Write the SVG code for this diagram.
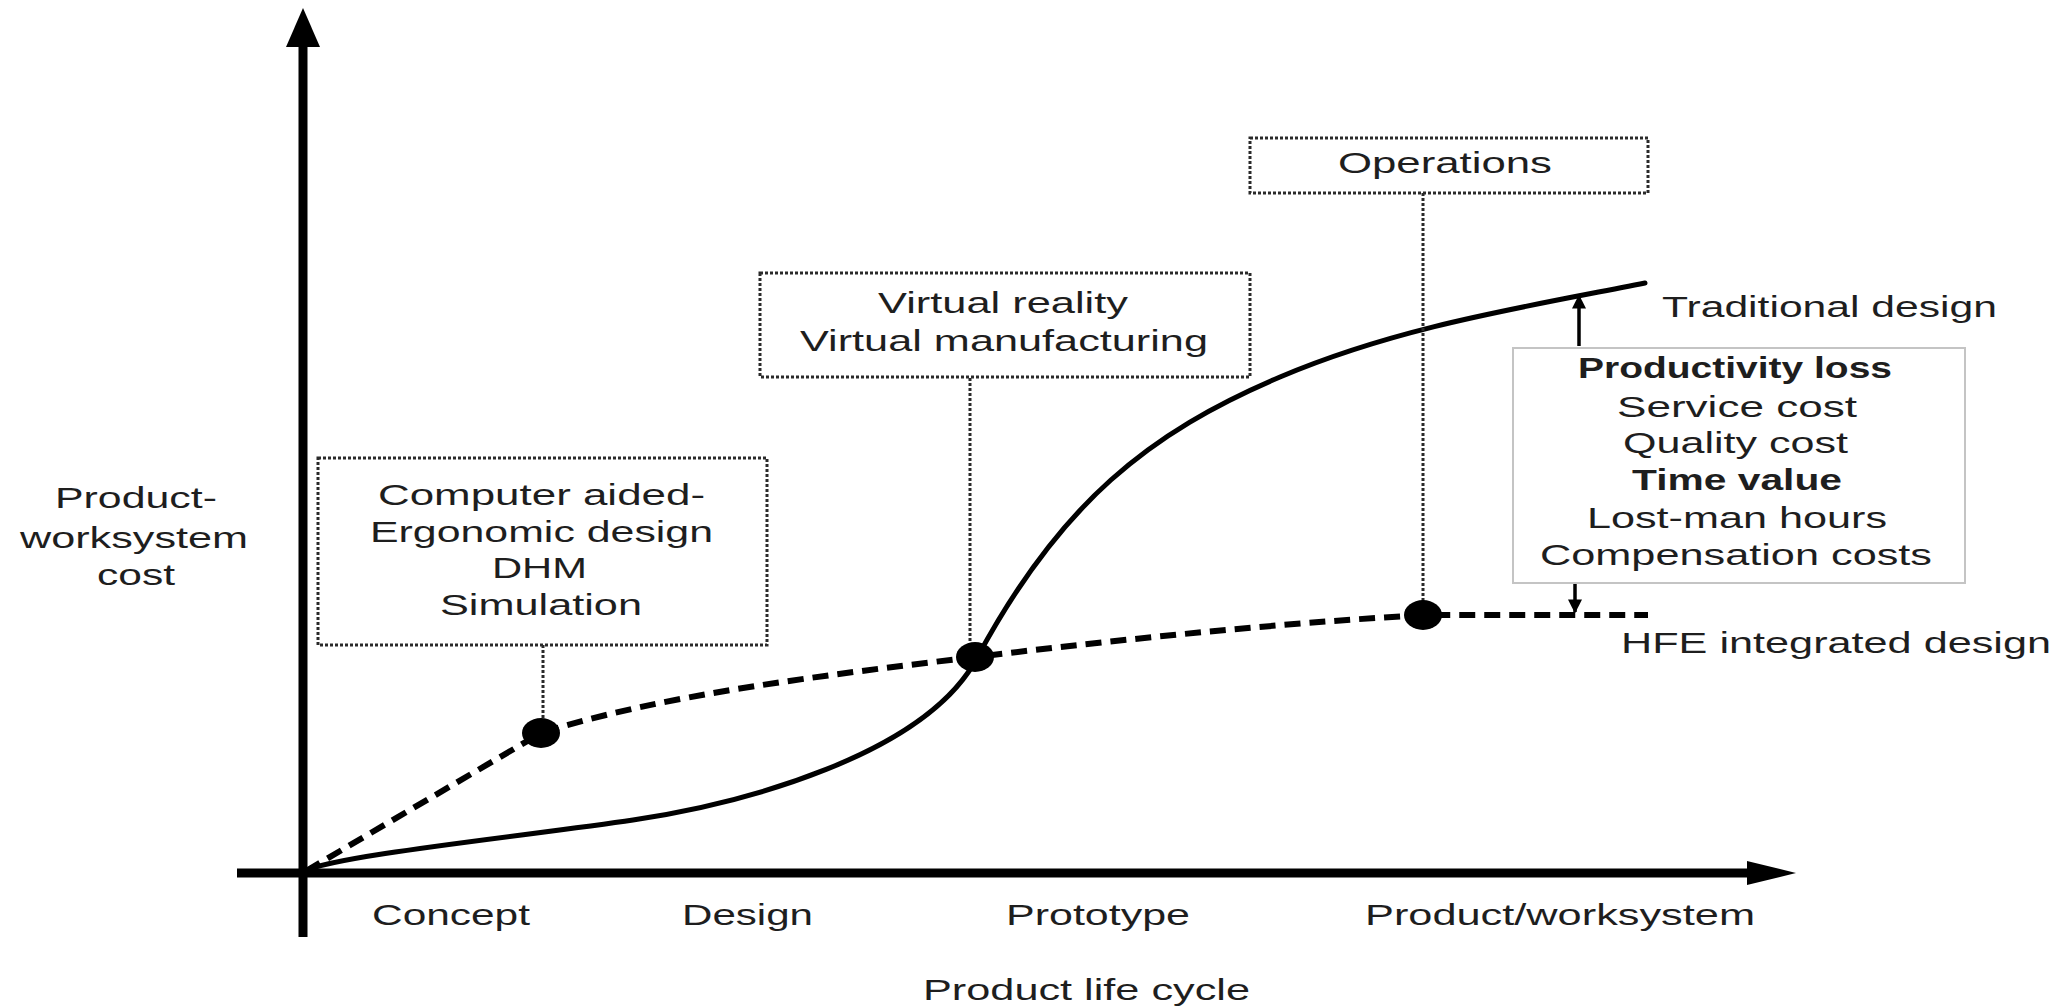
<svg xmlns="http://www.w3.org/2000/svg" width="2067" height="1008" viewBox="0 0 2067 1008">
<style>
  text { font-family: "Liberation Sans", Arial, sans-serif; font-size: 29px; fill: #1e1e1e; }
  .b { font-weight: bold; }
  .dotbox { fill: none; stroke: #2a2a2a; stroke-width: 3; stroke-dasharray: 3 2; }
  .leader { fill: none; stroke: #2a2a2a; stroke-width: 3; stroke-dasharray: 3 2; }
  .axis { stroke: #000; stroke-width: 9; fill: none; }
  .trad { fill: none; stroke: #000; stroke-width: 5; stroke-linecap: round; }
  .hfe { fill: none; stroke: #000; stroke-width: 6; stroke-dasharray: 16 9; }
  .dot { fill: #000; }
  .small { stroke: #000; stroke-width: 3.5; fill: none; }
</style>
<defs>
  <marker id="ah" viewBox="0 0 10 10" refX="9" refY="5" markerWidth="4" markerHeight="4" orient="auto" markerUnits="strokeWidth">
    <path d="M0,0 L10,5 L0,10 z" fill="#000"/>
  </marker>
</defs>
<rect width="2067" height="1008" fill="#fff"/>

<g id="axes">
  <line class="axis" x1="303" y1="45" x2="303" y2="937"/>
  <polygon points="303,8 286,47 320,47" fill="#000"/>
  <line class="axis" x1="237" y1="873" x2="1750" y2="873"/>
  <polygon points="1796,873 1747,861 1747,885" fill="#000"/>
</g>

<g id="connectors">
  <path id="traditional-curve" class="trad" d="M306,871 C330,856 533,835 633,820 C743,803.5 925,755 977,658 C1060,503 1150,432 1280,377 C1400,326 1525,307 1645,283"/>
  <path id="hfe-curve" class="hfe" d="M306,871 L541,733 C660,695 825,675 975,657 C1125,639 1270,624 1423,615 L1648,615"/>
  <line class="leader" x1="543" y1="645" x2="543" y2="720"/>
  <line class="leader" x1="970" y1="378" x2="970" y2="645"/>
  <line class="leader" x1="1423" y1="193" x2="1423" y2="602"/>
  <line class="small" x1="1579" y1="346" x2="1579" y2="296" marker-end="url(#ah)"/>
  <line class="small" x1="1575" y1="583" x2="1575" y2="612" marker-end="url(#ah)"/>
</g>

<g id="dots">
  <ellipse class="dot" cx="541" cy="733" rx="19" ry="15"/>
  <ellipse class="dot" cx="975" cy="657" rx="19" ry="15"/>
  <ellipse class="dot" cx="1423" cy="615" rx="19" ry="15"/>
</g>

<g id="y-label">
  <text x="55" y="508" textLength="162" lengthAdjust="spacingAndGlyphs">Product-</text>
  <text x="20" y="548" textLength="228" lengthAdjust="spacingAndGlyphs">worksystem</text>
  <text x="97" y="585" textLength="78" lengthAdjust="spacingAndGlyphs">cost</text>
</g>

<g id="box-cad">
  <rect class="dotbox" x="318" y="458" width="449" height="187"/>
  <text x="378" y="505" textLength="327" lengthAdjust="spacingAndGlyphs">Computer aided-</text>
  <text x="370" y="542" textLength="343" lengthAdjust="spacingAndGlyphs">Ergonomic design</text>
  <text x="492" y="578" textLength="95" lengthAdjust="spacingAndGlyphs">DHM</text>
  <text x="440" y="615" textLength="202" lengthAdjust="spacingAndGlyphs">Simulation</text>
</g>

<g id="box-vr">
  <rect class="dotbox" x="760" y="273" width="490" height="104"/>
  <text x="878" y="313" textLength="250" lengthAdjust="spacingAndGlyphs">Virtual reality</text>
  <text x="800" y="351" textLength="408" lengthAdjust="spacingAndGlyphs">Virtual manufacturing</text>
</g>

<g id="box-ops">
  <rect class="dotbox" x="1250" y="138" width="398" height="55"/>
  <text x="1338" y="173" textLength="214" lengthAdjust="spacingAndGlyphs">Operations</text>
</g>

<g id="box-costs">
  <rect x="1513" y="348" width="452" height="235" fill="none" stroke="#c4c4c4" stroke-width="2"/>
  <text class="b" x="1578" y="378" textLength="314" lengthAdjust="spacingAndGlyphs">Productivity loss</text>
  <text x="1617" y="417" textLength="240" lengthAdjust="spacingAndGlyphs">Service cost</text>
  <text x="1623" y="453" textLength="225" lengthAdjust="spacingAndGlyphs">Quality cost</text>
  <text class="b" x="1632" y="490" textLength="210" lengthAdjust="spacingAndGlyphs">Time value</text>
  <text x="1587" y="528" textLength="300" lengthAdjust="spacingAndGlyphs">Lost-man hours</text>
  <text x="1540" y="565" textLength="392" lengthAdjust="spacingAndGlyphs">Compensation costs</text>
</g>

<g id="curve-labels">
  <text x="1662" y="317" textLength="335" lengthAdjust="spacingAndGlyphs">Traditional design</text>
  <text x="1621" y="653" textLength="430" lengthAdjust="spacingAndGlyphs">HFE integrated design</text>
</g>

<g id="x-labels">
  <text x="372" y="925" textLength="158" lengthAdjust="spacingAndGlyphs">Concept</text>
  <text x="682" y="925" textLength="131" lengthAdjust="spacingAndGlyphs">Design</text>
  <text x="1006" y="925" textLength="184" lengthAdjust="spacingAndGlyphs">Prototype</text>
  <text x="1365" y="925" textLength="390" lengthAdjust="spacingAndGlyphs">Product/worksystem</text>
  <text x="923" y="1000" textLength="327" lengthAdjust="spacingAndGlyphs">Product life cycle</text>
</g>
</svg>
